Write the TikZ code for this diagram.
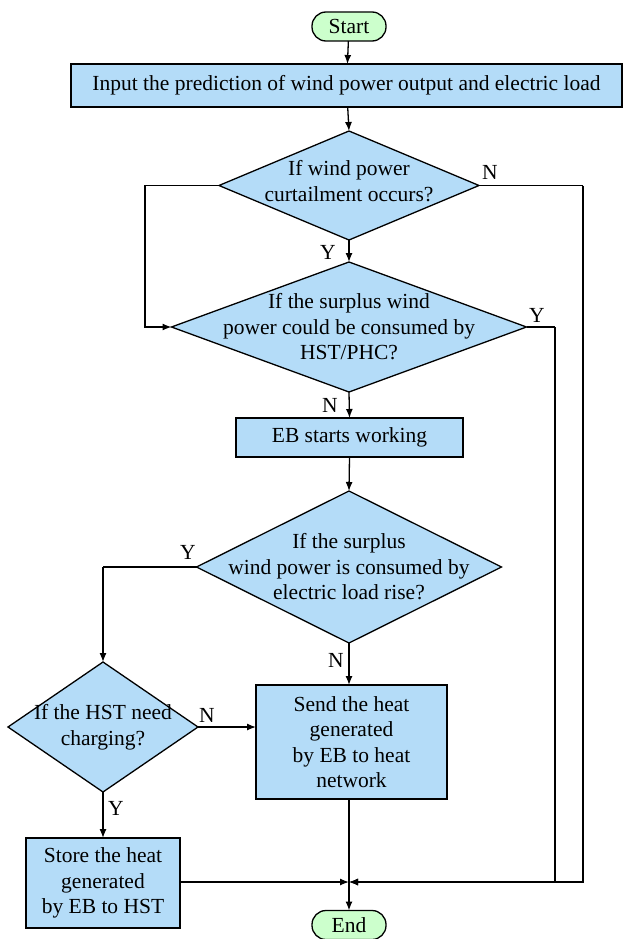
\documentclass[tikz,border=0pt]{standalone}
\usepackage{fontspec}
\setmainfont{Liberation Serif}
\usetikzlibrary{shapes.geometric,arrows.meta}
\definecolor{boxblue}{RGB}{180,220,248}
\definecolor{termgreen}{RGB}{204,255,204}
\begin{document}
\begin{tikzpicture}[x=1pt,y=-1pt,
  font=\rmfamily\fontsize{21.5}{25.5}\selectfont,
  every node/.style={inner sep=0pt, outer sep=0pt},
  proc/.style={draw, line width=1.3pt, fill=boxblue, align=center},
  term/.style={draw, line width=1.3pt, fill=termgreen, rounded corners=14pt,
    minimum width=74pt, minimum height=29pt},
  dia/.style={draw, line width=1.3pt, fill=boxblue, diamond},
  arr/.style={line width=1.3pt, -{Latex[length=9pt,width=7pt]}},
  ln/.style={line width=1.3pt},
  lbl/.style={font=\rmfamily\fontsize{21.5}{24}\selectfont}]
\useasboundingbox (0,0) rectangle (623,939);

% terminals and process boxes
\node[term] (start) at (349,26.5) {Start};
\node[proc, minimum width=551pt, minimum height=43pt] (input) at (346.5,85.5)
  {Input the prediction of wind power output and electric load};
\node[proc, minimum width=227pt, minimum height=39pt] (eb) at (349.5,437.5) {EB starts working};
\node[proc, minimum width=191pt, minimum height=114pt] (send) at (351.5,742)
  {Send the heat\\generated\\by EB to heat\\network};
\node[proc, minimum width=154pt, minimum height=90pt] (store) at (103,883)
  {Store the heat\\generated\\by EB to HST};
\node[term] (end) at (349,925) {End};

% decisions
\node[dia, minimum width=260pt, minimum height=109pt] (d1) at (349,185.5) {};
\node[align=center] at (349,181) {If wind power\\curtailment occurs?};
\node[dia, minimum width=355pt, minimum height=130pt] (d2) at (349,327) {};
\node[align=center] at (349,327) {If the surplus wind\\power could be consumed by\\HST/PHC?};
\node[dia, minimum width=305pt, minimum height=152pt] (d3) at (349,567) {};
\node[align=center] at (349,567) {If the surplus\\wind power is consumed by\\electric load rise?};
\node[dia, minimum width=190pt, minimum height=130pt] (d4) at (103,727) {};
\node[align=center] at (103,727) {If the HST need\\charging?};

% routing points
\coordinate (j) at (349,882);
\coordinate (l1) at (145,185.5);
\coordinate (r1) at (583,185.5);
\coordinate (r2) at (555,327);
\coordinate (l3) at (103,567);

% connectors
\draw[arr] (start) -- (input);
\draw[arr] (input) -- (d1.north);
\draw[arr] (d1.south) -- (d2.north);
\draw[arr] (d1.west) -- (l1) |- (d2.west);
\draw[ln] (d1.east) -- (r1);
\draw[arr] (r1) |- (j);
\draw[ln] (d2.east) -- (r2);
\draw[arr] (r2) |- (j);
\draw[arr] (d2.south) -- (eb.north);
\draw[arr] (eb.south) -- (d3.north);
\draw[ln] (d3.west) -- (l3);
\draw[arr] (l3) -- (d4.north);
\draw[arr] (d3.south) -- (d3.south |- send.north);
\draw[arr] (d4.east) -- (d4.east -| send.west);
\draw[arr] (d4.south) -- (store.north);
\draw[arr] (store.east |- j) -- (j);
\draw[arr] (send.south -| j) -- (end.north);

% branch labels
\node[lbl] at (490,172) {N};
\node[lbl] at (328,252) {Y};
\node[lbl] at (537,315) {Y};
\node[lbl] at (330,405) {N};
\node[lbl] at (188,552) {Y};
\node[lbl] at (336,660) {N};
\node[lbl] at (207,715) {N};
\node[lbl] at (116,808) {Y};
\end{tikzpicture}
\end{document}
